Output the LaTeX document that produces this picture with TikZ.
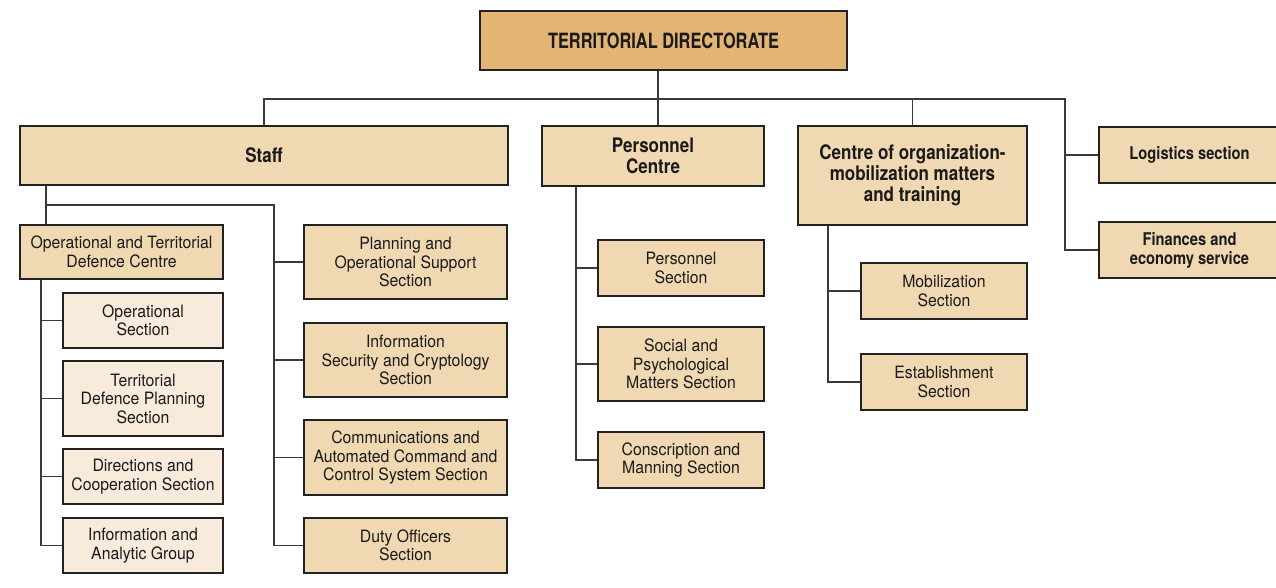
\documentclass[tikz,border=0pt]{standalone}
\usepackage{fontspec}
\newfontfamily\regf[FakeStretch=0.93]{TeX Gyre Heros}
\newfontfamily\boldf[FakeStretch=0.85]{TeX Gyre Heros}
\newfontfamily\titlef[FakeStretch=0.78]{TeX Gyre Heros}
\newfontfamily\logf[FakeStretch=0.84]{TeX Gyre Heros}
\definecolor{topfill}{HTML}{E3B474}
\definecolor{boxfill}{HTML}{F0D8B2}
\definecolor{lightfill}{HTML}{F8EBDB}
\definecolor{edge}{HTML}{222222}
\definecolor{wire}{HTML}{3A3A3A}
\definecolor{ink}{HTML}{1A1A1A}
\tikzset{
  base/.style={draw=edge, line width=1.2pt, inner sep=0pt, align=center, text=ink},
  topbox/.style={base, fill=topfill, font=\titlef\bfseries\fontsize{21}{24}\selectfont},
  mainbox/.style={base, fill=boxfill, font=\boldf\bfseries\fontsize{20}{21}\selectfont},
  sidebox/.style={base, fill=boxfill, font=\logf\bfseries\fontsize{17.5}{19}\selectfont},
  unitbox/.style={base, fill=boxfill, font=\regf\fontsize{17}{18.5}\selectfont},
  subbox/.style={base, fill=lightfill, font=\regf\fontsize{17}{18.5}\selectfont},
  link/.style={draw=wire, line width=1.3pt},
  wh/.style 2 args={minimum width=#1pt, minimum height=#2pt}
}
\begin{document}
\begin{tikzpicture}[x=1pt, y=-1pt]
\useasboundingbox (0,0) rectangle (1276,588);
% top
\node[topbox, wh={367}{59}] (top) at (663.5,40.5) {TERRITORIAL DIRECTORATE};
% level 1
\node[mainbox, wh={488}{59}] (staff) at (264,155.5) {Staff};
\node[mainbox, wh={222}{60}] (pers) at (653,156) {Personnel\\Centre};
\node[mainbox, wh={229}{99}] (corg) at (912.5,175.5) {Centre of organization-\\mobilization matters\\and training};
\node[sidebox, wh={181}{56}] (logi) at (1189.5,155) {Logistics section};
\node[sidebox, wh={181}{56}] (fin) at (1189.5,250) {Finances and\\economy service};
% staff branch
\node[unitbox, wh={203}{54}] (otdc) at (121.5,252) {Operational and Territorial\\Defence Centre};
\node[subbox, wh={160}{55}] (ops) at (143,320.5) {Operational\\Section};
\node[subbox, wh={160}{75}] (tdp) at (143,398.5) {Territorial\\Defence Planning\\Section};
\node[subbox, wh={160}{55}] (dir) at (143,476.5) {Directions and\\Cooperation Section};
\node[subbox, wh={160}{55}] (iag) at (143,545.5) {Information and\\Analytic Group};
\node[unitbox, wh={203}{74}] (plan) at (405.5,262) {Planning and\\Operational Support\\Section};
\node[unitbox, wh={203}{74}] (isec) at (405.5,360) {Information\\Security and Cryptology\\Section};
\node[unitbox, wh={203}{75}] (comm) at (405.5,457.5) {Communications and\\Automated Command and\\Control System Section};
\node[unitbox, wh={203}{55}] (duty) at (405.5,545.5) {Duty Officers\\Section};
% personnel branch
\node[unitbox, wh={166}{56}] (psec) at (681,268) {Personnel\\Section};
\node[unitbox, wh={166}{74}] (soc) at (681,364) {Social and\\Psychological\\Matters Section};
\node[unitbox, wh={166}{56}] (consc) at (681,460) {Conscription and\\Manning Section};
% centre of organization branch
\node[unitbox, wh={166}{56}] (mob) at (944,291) {Mobilization\\Section};
\node[unitbox, wh={166}{56}] (est) at (944,382) {Establishment\\Section};
% helper coordinates
\coordinate (spine) at (658,99);
\coordinate (rbus) at (1065,99);
\coordinate (sx) at (46,205);
\coordinate (sr) at (274,205);
\coordinate (ox) at (41,279);
\coordinate (px) at (576,186);
\coordinate (cx) at (828,225);
% connectors
\draw[link] (top.south -| spine) -- (pers.north -| spine);
\draw[link] (staff.north) |- (rbus) |- (fin.west);
\draw[link] (rbus |- logi.west) -- (logi.west);
\draw[link] (corg.north) -- (corg.north |- spine);
\draw[link] (staff.south -| sx) -- (otdc.north -| sx);
\draw[link] (sx) -- (sr) |- (duty.west);
\draw[link] (sr |- plan.west) -- (plan.west);
\draw[link] (sr |- isec.west) -- (isec.west);
\draw[link] (sr |- comm.west) -- (comm.west);
\draw[link] (otdc.south -| ox) |- (iag.west);
\draw[link] (ox |- ops.west) -- (ops.west);
\draw[link] (ox |- tdp.west) -- (tdp.west);
\draw[link] (ox |- dir.west) -- (dir.west);
\draw[link] (pers.south -| px) |- (consc.west);
\draw[link] (px |- psec.west) -- (psec.west);
\draw[link] (px |- soc.west) -- (soc.west);
\draw[link] (corg.south -| cx) |- (est.west);
\draw[link] (cx |- mob.west) -- (mob.west);
\end{tikzpicture}
\end{document}
